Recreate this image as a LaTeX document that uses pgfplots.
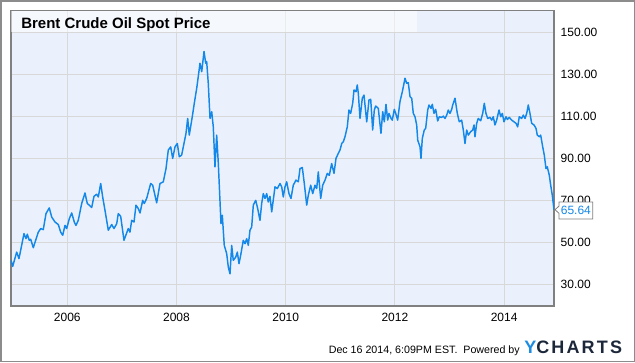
\documentclass[border=0pt]{standalone}
\usepackage{pgfplots}
\pgfplotsset{compat=1.18}
\usepackage{pgfplotstable}
\usepackage{fontspec}
\setmainfont{Liberation Sans}
\definecolor{plotbg}{RGB}{235,241,252}
\definecolor{gridgray}{RGB}{216,216,216}
\definecolor{framegray}{RGB}{128,128,128}
\definecolor{outergray}{RGB}{140,140,140}
\definecolor{lineblue}{RGB}{20,136,232}
\definecolor{logoblue}{RGB}{30,140,225}
\definecolor{logodark}{RGB}{28,40,58}

\pgfplotstableread{
year price
2004.969 41.6
2005.000 38.7
2005.073 45.5
2005.115 42.4
2005.207 54.3
2005.244 51.9
2005.267 54.0
2005.304 51.1
2005.330 51.6
2005.377 47.6
2005.469 55.0
2005.513 56.7
2005.560 56.2
2005.610 63.8
2005.670 66.5
2005.714 62.2
2005.775 59.8
2005.835 58.6
2005.879 55.0
2005.916 53.5
2005.958 58.2
2005.989 56.7
2006.037 61.4
2006.081 64.1
2006.128 59.8
2006.159 58.2
2006.201 60.6
2006.264 68.6
2006.324 73.6
2006.366 68.6
2006.403 67.8
2006.447 66.7
2006.489 72.0
2006.538 73.0
2006.568 71.7
2006.612 78.1
2006.648 71.7
2006.690 65.4
2006.751 55.9
2006.813 58.6
2006.855 56.7
2006.905 59.0
2006.934 63.8
2006.978 62.5
2007.038 51.1
2007.117 56.7
2007.148 55.0
2007.179 60.6
2007.222 59.8
2007.258 67.8
2007.300 66.2
2007.332 64.1
2007.381 70.1
2007.410 68.6
2007.454 71.0
2007.527 78.1
2007.564 77.3
2007.637 68.9
2007.698 78.1
2007.758 78.9
2007.808 85.2
2007.850 94.0
2007.894 95.5
2007.930 90.0
2007.973 95.5
2008.015 97.1
2008.051 90.8
2008.095 91.6
2008.137 97.1
2008.174 101.9
2008.205 109.0
2008.234 101.1
2008.289 109.8
2008.326 116.2
2008.370 123.3
2008.399 128.9
2008.430 135.2
2008.462 131.2
2008.504 140.8
2008.535 135.2
2008.553 136.0
2008.582 125.7
2008.614 109.0
2008.645 112.2
2008.674 105.0
2008.705 86.0
2008.736 101.1
2008.766 87.6
2008.815 59.0
2008.839 63.0
2008.875 48.7
2008.919 44.8
2008.949 38.4
2008.980 35.2
2009.011 48.7
2009.040 41.6
2009.084 43.1
2009.114 45.5
2009.145 40.0
2009.181 44.8
2009.223 51.1
2009.255 49.5
2009.286 51.9
2009.315 48.7
2009.346 55.9
2009.377 57.4
2009.407 67.8
2009.451 70.1
2009.487 66.2
2009.529 60.6
2009.560 68.6
2009.590 73.3
2009.621 71.0
2009.652 73.3
2009.681 69.3
2009.712 72.0
2009.744 64.6
2009.804 76.5
2009.846 75.7
2009.896 78.1
2009.927 76.5
2009.956 71.7
2009.987 76.5
2010.018 78.9
2010.060 73.3
2010.097 71.0
2010.139 77.3
2010.189 79.7
2010.231 78.9
2010.262 85.2
2010.304 85.7
2010.341 78.1
2010.385 67.8
2010.414 72.5
2010.458 77.3
2010.495 73.3
2010.537 77.3
2010.568 75.7
2010.597 83.6
2010.641 71.0
2010.678 77.3
2010.720 79.7
2010.762 82.9
2010.799 82.0
2010.842 87.6
2010.885 82.9
2010.921 90.0
2010.963 92.4
2010.995 94.0
2011.026 97.1
2011.055 97.9
2011.086 100.3
2011.128 105.0
2011.159 113.0
2011.190 111.4
2011.227 116.2
2011.251 122.5
2011.288 121.7
2011.311 124.9
2011.330 121.0
2011.361 109.0
2011.403 118.6
2011.434 120.1
2011.484 107.4
2011.526 117.8
2011.557 118.1
2011.593 103.5
2011.623 113.0
2011.648 114.9
2011.696 113.8
2011.745 101.9
2011.777 112.2
2011.806 107.4
2011.837 115.7
2011.868 108.2
2011.892 111.4
2011.929 109.0
2011.952 108.2
2011.989 113.3
2012.015 111.4
2012.051 108.2
2012.093 117.0
2012.136 121.7
2012.185 128.1
2012.216 125.7
2012.245 126.0
2012.277 119.3
2012.308 118.6
2012.337 111.4
2012.368 109.8
2012.399 105.9
2012.418 98.7
2012.460 95.5
2012.478 90.0
2012.502 99.5
2012.538 103.5
2012.564 104.3
2012.601 113.0
2012.625 115.4
2012.662 113.8
2012.685 115.7
2012.716 111.4
2012.747 113.3
2012.784 107.8
2012.813 109.8
2012.857 109.5
2012.886 110.1
2012.918 109.0
2012.949 110.6
2012.978 113.0
2013.009 111.4
2013.040 113.3
2013.059 115.4
2013.101 118.6
2013.143 111.4
2013.179 107.4
2013.223 108.2
2013.253 103.5
2013.284 97.1
2013.315 103.5
2013.344 101.1
2013.388 102.7
2013.425 103.5
2013.449 105.9
2013.467 100.3
2013.498 106.7
2013.527 109.0
2013.571 107.9
2013.608 111.4
2013.637 116.2
2013.668 111.4
2013.700 109.0
2013.742 109.5
2013.773 108.2
2013.802 109.8
2013.833 105.9
2013.864 108.2
2013.907 113.0
2013.938 109.8
2013.967 111.4
2013.998 107.4
2014.035 109.8
2014.059 108.5
2014.095 109.5
2014.139 108.2
2014.181 107.4
2014.218 106.7
2014.249 105.0
2014.278 109.8
2014.322 109.0
2014.352 110.6
2014.383 109.0
2014.414 111.4
2014.443 115.4
2014.474 111.4
2014.505 106.7
2014.548 105.9
2014.584 104.3
2014.608 101.1
2014.645 100.3
2014.670 101.1
2014.707 95.5
2014.736 91.6
2014.767 85.2
2014.791 86.0
2014.828 82.0
2014.853 77.3
2014.883 72.5
2014.914 65.64
}\brent

\begin{document}
\begin{tikzpicture}
\useasboundingbox (0,0) rectangle (476.25pt,271.5pt);
\fill[white] (0,0) rectangle (476.25pt,271.5pt);
\begin{axis}[
  at={(8.25pt,42pt)}, anchor=south west,
  scale only axis, width=407.25pt, height=221.5pt,
  xmin=2004.969, xmax=2014.914, ymin=19.9, ymax=160.2,
  axis background/.style={fill=plotbg},
  axis line style={draw=framegray, line width=0.8pt},
  grid=major, major grid style={draw=gridgray, line width=0.75pt},
  xtick={2006,2008,2010,2012,2014},
  xticklabels={2006,2008,2010,2012,2014},
  ytick={30,50,70,90,110,130,150},
  yticklabel pos=right,
  yticklabel={\pgfmathprintnumber[fixed,fixed zerofill,precision=2]{\tick}},
  /pgf/number format/assume math mode=true,
  major tick length=0pt,
  tick label style={font=\fontsize{9}{10}\selectfont, text=black},
  xticklabel style={yshift=-1.5pt},
  yticklabel style={anchor=west, xshift=1.5pt},
  clip=true,
]
\fill[white, opacity=0.5] (axis cs:2004.969,150) rectangle (axis cs:2012.405,160.2);
\addplot[lineblue, line width=1.1pt, line join=round] table[x=year, y=price] {\brent};
\end{axis}
\begin{scope}[x=0.75pt, y=-0.75pt, yshift=271.5pt]
  % outer frame
  \draw[outergray, line width=1.125pt] (0.75,0.75) rectangle (634.25,361.25);
  % title
  \node[anchor=base west, inner sep=0pt, font=\bfseries\fontsize{11.25}{13}\selectfont] at (21,28.3) {Brent Crude Oil Spot Price};
  % last value callout
  \filldraw[fill=white, draw=framegray, line width=0.6pt]
    (559,202) -- (592.7,202) -- (592.7,219) -- (559,219) -- (559,213.3) -- (555,209.7) -- (559,206.1) -- cycle;
  \node[inner sep=0pt, text=lineblue, font=\fontsize{9}{10}\selectfont] at (575.9,210.8) {65.64};
  % footer
  \node[anchor=base east, inner sep=0pt, font=\fontsize{8}{9}\selectfont] at (520,353.3) {Dec 16 2014, 6:09PM EST.\ \ Powered by};
  \node[anchor=base west, inner sep=0pt, font=\bfseries\fontsize{13.5}{14}\selectfont\addfontfeature{LetterSpace=12}] at (524,353.3) {\textcolor{logoblue}{Y}\textcolor{logodark}{CHARTS}};
\end{scope}
\end{tikzpicture}
\end{document}
